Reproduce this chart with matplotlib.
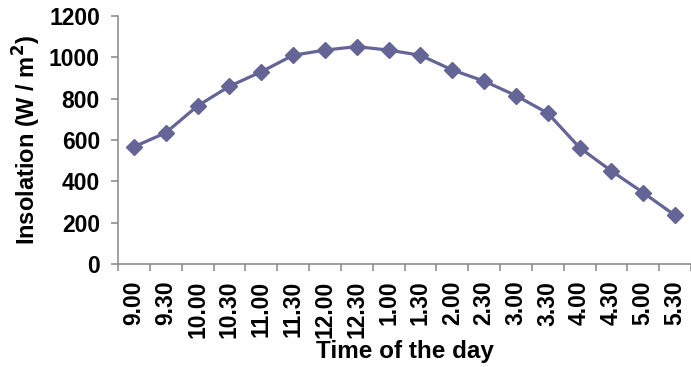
import matplotlib
matplotlib.use("Agg")
import matplotlib.pyplot as plt
import numpy as np

times = ["9.00", "9.30", "10.00", "10.30", "11.00", "11.30", "12.00", "12.30",
         "1.00", "1.30", "2.00", "2.30", "3.00", "3.30", "4.00", "4.30", "5.00", "5.30"]
insolation = [567, 635, 765, 860, 930, 1010, 1035, 1052, 1035, 1010,
              939, 885, 815, 730, 563, 450, 345, 235]
yticks = [0, 200, 400, 600, 800, 1000, 1200]

plt.rcParams['font.family'] = ['Liberation Sans', 'DejaVu Sans']
plt.rcParams['font.weight'] = 'bold'

fig = plt.figure(figsize=(6.91, 3.67), dpi=100)
ax = fig.add_axes([118/691, (367-264)/367, 1 - 118/691, 248/367])

x = np.arange(len(times))
color = '#646496'
ax.plot(x, insolation, color=color, lw=2.3, marker='D', ms=8.2, mec=color, mfc=color, zorder=3,
        clip_on=False)

ax.set_xlim(-0.5, len(times) - 0.5)
ax.set_ylim(0, 1200)
ax.set_yticks(yticks)
ax.set_yticklabels([str(v) for v in yticks], fontsize=16.5, fontweight='bold')

ax.set_xticks(np.arange(len(times) + 1) - 0.5)
ax.set_xticklabels([])
ax.set_xticks(x, minor=True)
ax.set_xticklabels(times, minor=True, rotation=90, fontsize=16.5, fontweight='bold')
ax.tick_params(axis='x', which='minor', length=0, pad=12)
ax.tick_params(axis='x', which='major', length=5, width=1.1, color='#868686', direction='out')
ax.tick_params(axis='y', which='major', length=5, width=1.1, color='#868686', direction='out', pad=8)

for s in ['top', 'right']:
    ax.spines[s].set_visible(False)
for s in ['left', 'bottom']:
    ax.spines[s].set_color('#868686')
    ax.spines[s].set_linewidth(1.1)

ax.set_xlabel("Time of the day", fontsize=17.5, fontweight='bold', labelpad=1)
ax.set_ylabel("Insolation (W / m$^\\mathbf{2}$)", fontsize=17, fontweight='bold', labelpad=4)

fig.savefig("out.png", dpi=100)
